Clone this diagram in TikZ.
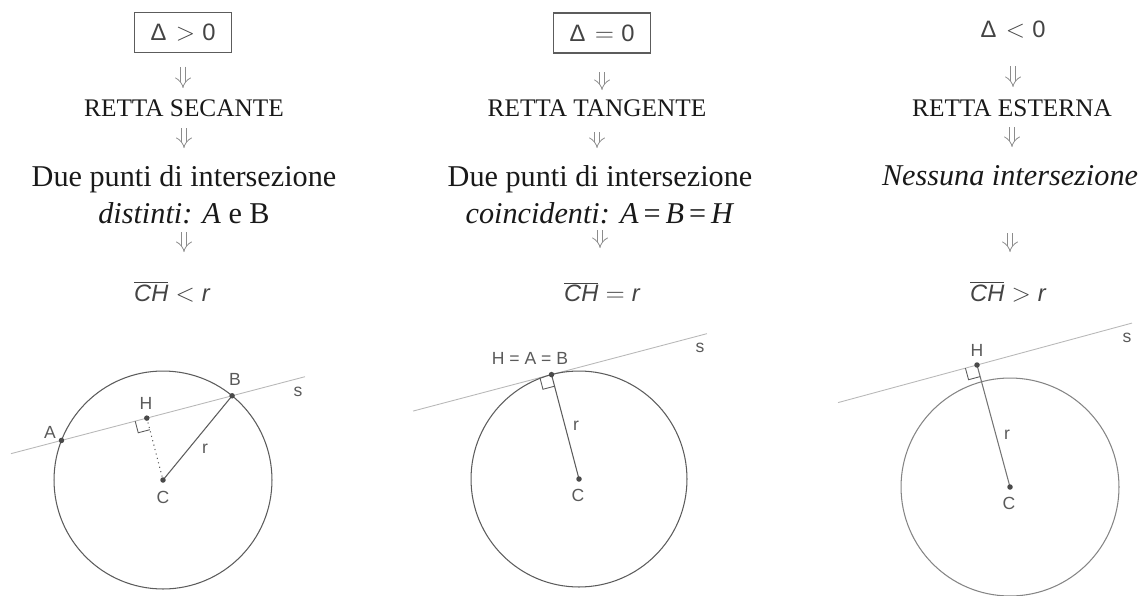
\documentclass[tikz,border=0pt]{standalone}
\usepackage{fontspec}
\setmainfont{Liberation Serif}
\newfontfamily\arialfont{Liberation Sans}
\usetikzlibrary{calc,arrows.meta,positioning}
\definecolor{gcerchio}{HTML}{5C5C5C}
\definecolor{gretta}{HTML}{B8B8B8}
\definecolor{gtesto}{HTML}{5A5A5A}
\definecolor{gfreccia}{HTML}{8C8C8C}
\definecolor{gdelta}{HTML}{444444}

\tikzset{
  delta/.style={font=\arialfont\fontsize{13.5}{16}\selectfont, text=gdelta},
  riquadro/.style={delta, draw=gcerchio, line width=0.6pt, minimum width=1.94cm, minimum height=0.8cm, inner sep=0pt},
  caso/.style={font=\fontsize{14.4}{17}\selectfont, text=black!90},
  punti/.style={font=\fontsize{17.2}{21}\selectfont, align=center, text=black!90},
  misura/.style={font=\arialfont\itshape\fontsize{13.5}{16}\selectfont, text=gdelta},
  implica/.style 2 args={draw=gfreccia, line width=0.45pt, double, double distance=2.8pt, -{Implies[length=3.6pt, width=10pt]}, shorten <=#1*0.02cm, shorten >=#2*0.02cm},
  cerchio/.style={draw=gcerchio, line width=0.6pt},
  retta/.style={draw=gretta, line width=0.5pt},
  raggio/.style={draw=gcerchio, line width=0.6pt},
  angolo/.style={draw=gcerchio, line width=0.5pt},
  etich/.style={font=\arialfont\fontsize{10}{12}\selectfont, text=gtesto, inner sep=0pt}
}

\begin{document}
\begin{tikzpicture}[x=0.02cm, y=-0.02cm]
    \useasboundingbox (0,0) rectangle (1145,595);

    % colonna 1: retta secante
    \node[riquadro] (d1) at (183,32.7) {Δ\hspace{.4em}$>$\hspace{.3em}0};
    \node[caso] (r1) at (184,108) {RETTA SECANTE};
    \node[punti] (t1) at (184,195) {Due punti di intersezione\\ \textit{distinti: A} e B};
    \node[misura] (c1) at (172,292) {$\overline{\hbox{CH}}$\hspace{.3em}$<$\hspace{.3em}r};
    \draw[implica={34}{20}] (d1.center) -- (d1.center |- r1.center);
    \draw[implica={20}{47}] (r1.center) -- (r1.center |- t1.center);
    \draw[implica={37}{40}] (t1.center) -- (t1.center |- c1.center);

    \coordinate (C1) at (163,480);
    \coordinate (H1) at (146.8,418.1);
    \coordinate (A1) at ($(H1)!1.764cm!-90:(C1)$);
    \coordinate (B1) at ($(H1)!1.764cm!90:(C1)$);
    \draw[retta] ($(H1)!2.808cm!-90:(C1)$) -- ($(H1)!3.272cm!90:(C1)$);
    \draw[cerchio] (C1) circle[radius=2.18cm];
    \draw[raggio, dotted] (H1) -- (C1);
    \draw[raggio] (C1) -- (B1);
    \coordinate (p1) at ($(H1)!0.24cm!-90:(C1)$);
    \coordinate (q1) at ($(H1)!0.24cm!(C1)$);
    \draw[angolo] (p1) -- ($(p1)+(q1)-(H1)$) -- (q1);
    \foreach \p in {A1,B1,H1,C1}
        \fill[gcerchio!80!black] (\p) circle[radius=0.055cm];
    \node[etich] (lA1) at (50,432) {A};
    \node[etich] (lB1) at (235,379) {B};
    \node[etich] (lH1) at (146,403) {H};
    \node[etich] (lC1) at (163,497) {C};
    \node[etich] (lr1) at (205,449) {r};
    \node[etich] (ls1) at (298,392) {s};

    % colonna 2: retta tangente
    \node[riquadro] (d2) at (602,33) {Δ\hspace{.4em}$=$\hspace{.3em}0};
    \node[caso] (r2) at (597,108) {RETTA TANGENTE};
    \node[punti] (t2) at (600,195) {Due punti di intersezione\\ \textit{coincidenti: A}\,=\,\textit{B}\,=\,\textit{H}};
    \node[misura] (c2) at (602,292) {$\overline{\hbox{CH}}$\hspace{.3em}$=$\hspace{.3em}r};
    \draw[implica={39}{18}] (d2.center) -- (d2.center |- r2.center);
    \draw[implica={24}{47}] (r2.center) -- (r2.center |- t2.center);
    \draw[implica={35}{44}] (t2.center) -- (t2.center |- c2.center);

    \coordinate (C2) at (579,479);
    \coordinate (H2) at (551.5,374.6);
    \draw[retta] ($(H2)!2.864cm!-90:(C2)$) -- ($(H2)!3.216cm!90:(C2)$);
    \draw[cerchio] (C2) circle[radius=2.16cm];
    \draw[raggio] (C2) -- (H2);
    \coordinate (p2) at ($(H2)!0.24cm!-90:(C2)$);
    \coordinate (q2) at ($(H2)!0.24cm!(C2)$);
    \draw[angolo] (p2) -- ($(p2)+(q2)-(H2)$) -- (q2);
    \foreach \p in {H2,C2}
        \fill[gcerchio!80!black] (\p) circle[radius=0.055cm];
    \node[etich] (lH2) at (530,358) {H = A = B};
    \node[etich] (lC2) at (578,495) {C};
    \node[etich] (lr2) at (576,426) {r};
    \node[etich] (ls2) at (700,348) {s};

    % colonna 3: retta esterna
    \node[delta] (d3) at (1013,30) {Δ\hspace{.4em}$<$\hspace{.3em}0};
    \node[caso] (r3) at (1012,108) {RETTA ESTERNA};
    \node[punti] (t3) at (1010,176) {\textit{Nessuna intersezione}};
    \node[misura] (c3) at (1008,292) {$\overline{\hbox{CH}}$\hspace{.3em}$>$\hspace{.3em}r};
    \draw[implica={36}{21}] (d3.center) -- (d3.center |- r3.center);
    \draw[implica={19}{29}] (r3.center) -- (r3.center |- t3.center);
    \draw[implica={57}{40}] (t3.center) -- (t3.center |- c3.center);

    \coordinate (C3) at (1010,487);
    \coordinate (H3) at (977,365);
    \draw[retta] ($(H3)!2.88cm!-90:(C3)$) -- ($(H3)!3.212cm!90:(C3)$);
    \draw[cerchio, draw=gcerchio!75] (C3) circle[radius=2.18cm];
    \draw[raggio, draw=gcerchio!85] (C3) -- (H3);
    \coordinate (p3) at ($(H3)!0.24cm!-90:(C3)$);
    \coordinate (q3) at ($(H3)!0.24cm!(C3)$);
    \draw[angolo] (p3) -- ($(p3)+(q3)-(H3)$) -- (q3);
    \foreach \p in {H3,C3}
        \fill[gcerchio!80!black] (\p) circle[radius=0.055cm];
    \node[etich] (lH3) at (977,350) {H};
    \node[etich] (lC3) at (1009,503) {C};
    \node[etich] (lr3) at (1007,435) {r};
    \node[etich] (ls3) at (1127,338) {s};
\end{tikzpicture}
\end{document}
